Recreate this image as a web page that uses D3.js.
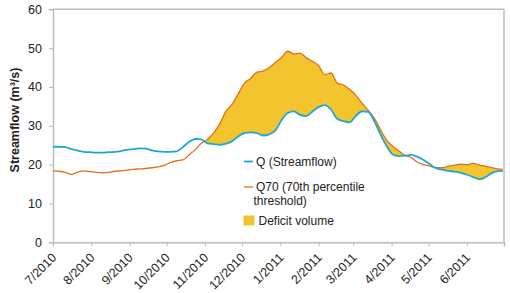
<!DOCTYPE html>
<html><head><meta charset="utf-8">
<script src="https://cdn.jsdelivr.net/npm/d3@7"></script>
<style>
body{margin:0;background:#fff;}
svg{display:block;font-family:Arial,"Liberation Sans",sans-serif;}
</style></head>
<body><svg id="c" width="510" height="293"></svg>
<script>
const dates = ["2010-07-01","2010-07-06","2010-07-11","2010-07-16","2010-07-21","2010-07-26","2010-07-31",
"2010-08-05","2010-08-10","2010-08-15","2010-08-20","2010-08-25","2010-08-30",
"2010-09-04","2010-09-09","2010-09-14","2010-09-19","2010-09-24","2010-09-29",
"2010-10-04","2010-10-09","2010-10-14","2010-10-19","2010-10-24","2010-10-29",
"2010-11-03","2010-11-08","2010-11-13","2010-11-18","2010-11-23","2010-11-28",
"2010-12-03","2010-12-08","2010-12-13","2010-12-18","2010-12-23","2010-12-28",
"2011-01-02","2011-01-07","2011-01-12","2011-01-17","2011-01-22","2011-01-27",
"2011-02-01","2011-02-06","2011-02-11","2011-02-16","2011-02-21","2011-02-26",
"2011-03-03","2011-03-08","2011-03-13","2011-03-18","2011-03-23","2011-03-28",
"2011-04-02","2011-04-07","2011-04-12","2011-04-17","2011-04-22","2011-04-27",
"2011-05-02","2011-05-07","2011-05-12","2011-05-17","2011-05-22","2011-05-27",
"2011-06-01","2011-06-06","2011-06-11","2011-06-16","2011-06-21","2011-06-26","2011-06-30"];

const streamflow = [24.6,24.6,24.5,24.0,23.6,23.3,23.2,
23.1,23.1,23.2,23.3,23.5,23.8,
24.0,24.2,24.1,23.7,23.4,23.3,
23.3,23.4,24.5,25.8,26.6,26.5,
25.5,25.3,25.1,25.4,26.0,27.3,
28.1,28.3,28.1,27.5,27.8,28.8,
31.5,33.3,33.7,32.8,32.5,33.7,
34.8,35.3,34.2,31.8,31.2,30.9,
32.5,33.7,33.6,31.2,27.8,24.8,
22.6,22.2,22.3,22.5,22.0,21.2,
20.1,19.1,18.7,18.4,18.2,17.9,
17.4,16.8,16.2,16.8,17.8,18.3,18.4];

const q70 = [18.4,18.3,18.0,17.5,18.1,18.4,18.2,
18.0,17.9,18.0,18.3,18.4,18.6,
18.8,18.9,19.0,19.2,19.4,19.8,
20.5,21.0,21.2,22.5,23.8,25.5,
26.5,28.2,30.5,33.8,35.5,38.3,
41.0,42.2,43.8,44.1,45.0,46.3,
47.6,49.2,48.5,48.7,47.5,46.6,
45.5,43.2,43.6,41.0,40.5,39.4,
37.9,35.9,34.0,32.0,29.0,26.3,
24.7,23.5,22.4,21.8,20.6,20.0,
19.6,19.2,19.2,19.6,19.9,20.1,
20.0,20.3,19.9,19.6,19.2,18.9,18.8];

const yTicks = [0,10,20,30,40,50,60];
const monthLabels = ["7/2010","8/2010","9/2010","10/2010","11/2010","12/2010","1/2011","2/2011","3/2011","4/2011","5/2011","6/2011"];
const seriesNames = ["Q (Streamflow)","Q70 (70th percentile threshold)","Deficit volume"];

const parse = d3.timeParse("%Y-%m-%d");
const data = dates.map((d,i)=>({date:parse(d), q:streamflow[i], t:q70[i]}));

const W=510,H=293, m={l:53,r:6,t:9.3,b:50.7};
const svg=d3.select("#c");
const x=d3.scaleTime().domain([new Date(2010,6,1),new Date(2011,6,1)]).range([m.l,W-m.r]);
const y=d3.scaleLinear().domain([0,60]).range([H-m.b,m.t]);

const cBlue="#1ca6de", cOrange="#e1701d", cYellow="#f2c42d", cGrid="#bdbdbd";
const curve=d3.curveMonotoneX;

const defs=svg.append("defs");
defs.append("clipPath").attr("id","aboveQ").append("path")
  .attr("d", d3.area().curve(curve).x(d=>x(d.date)).y0(m.t-5).y1(d=>y(d.q))(data));

svg.append("path").attr("clip-path","url(#aboveQ)")
  .attr("fill",cYellow)
  .attr("d", d3.area().curve(curve).x(d=>x(d.date)).y0(d=>y(d.q)).y1(d=>y(d.t))(data));

svg.append("line").attr("x1",m.l).attr("x2",W-m.r).attr("y1",m.t).attr("y2",m.t).attr("stroke",cGrid).attr("stroke-width",1.5);
svg.append("line").attr("x1",W-m.r).attr("x2",W-m.r).attr("y1",m.t).attr("y2",H-m.b).attr("stroke",cGrid).attr("stroke-width",1.5);

const ya=svg.append("g").attr("transform",`translate(${m.l},0)`)
  .call(d3.axisLeft(y).tickValues(yTicks).tickSize(4).tickPadding(7).tickFormat(d3.format("d")));
ya.select(".domain").attr("stroke",cGrid).attr("stroke-width",1.5);
ya.selectAll(".tick line").attr("stroke",cGrid);
ya.selectAll("text").attr("font-size",12.5).attr("fill","#222").style("font-family","Arial,'Liberation Sans',sans-serif");

const monthTicks=d3.timeMonth.range(new Date(2010,6,1),new Date(2011,6,2));
const xa=svg.append("g").attr("transform",`translate(0,${H-m.b})`)
  .call(d3.axisBottom(x).tickValues(monthTicks).tickSize(4).tickFormat(""));
xa.select(".domain").attr("stroke",cGrid).attr("stroke-width",1.5);
xa.selectAll(".tick line").attr("stroke",cGrid);
xa.selectAll(".minor").data(d3.timeDay.every(4).range(new Date(2010,6,1),new Date(2011,6,1)))
  .enter().append("line").attr("class","minor")
  .attr("x1",d=>x(d)).attr("x2",d=>x(d)).attr("y1",0).attr("y2",1.5).attr("stroke","#c8c8c8").attr("stroke-width",0.8);

svg.append("g").selectAll("text").data(monthLabels).enter().append("text")
  .attr("transform",(d,i)=>`translate(${x(monthTicks[i])+1},${H-m.b+13}) rotate(-45)`)
  .attr("text-anchor","end").attr("dy","0.35em").attr("font-size",12.5).attr("fill","#222")
  .text(d=>d);

svg.append("path").attr("fill","none").attr("stroke",cOrange).attr("stroke-width",1.3)
  .attr("d",d3.line().curve(curve).x(d=>x(d.date)).y(d=>y(d.t))(data));
svg.append("path").attr("fill","none").attr("stroke",cBlue).attr("stroke-width",1.8)
  .attr("d",d3.line().curve(curve).x(d=>x(d.date)).y(d=>y(d.q))(data));

svg.append("text").attr("transform","translate(19,120) rotate(-90)")
  .attr("text-anchor","middle").attr("font-size",12.5).attr("font-weight","bold").attr("fill","#222")
  .text("Streamflow (m³/s)");

const lg=svg.append("g").attr("font-size",12).attr("fill","#222");
lg.append("line").attr("x1",244).attr("x2",253).attr("y1",161.5).attr("y2",161.5).attr("stroke",cBlue).attr("stroke-width",1.8);
lg.append("text").attr("x",256).attr("y",161.5).attr("dy","0.35em").text(seriesNames[0]);
lg.append("line").attr("x1",244).attr("x2",253).attr("y1",187).attr("y2",187).attr("stroke",cOrange).attr("stroke-width",1.3);
const t2=lg.append("text").attr("x",256).attr("y",187).attr("dy","0.35em");
t2.append("tspan").text("Q70 (70th percentile");
t2.append("tspan").attr("x",253.5).attr("dy",13.5).text("threshold)");
lg.append("rect").attr("x",243.5).attr("y",215.5).attr("width",11).attr("height",10).attr("fill",cYellow);
lg.append("text").attr("x",258.5).attr("y",220.5).attr("dy","0.35em").text(seriesNames[2]);
</script></body></html>
